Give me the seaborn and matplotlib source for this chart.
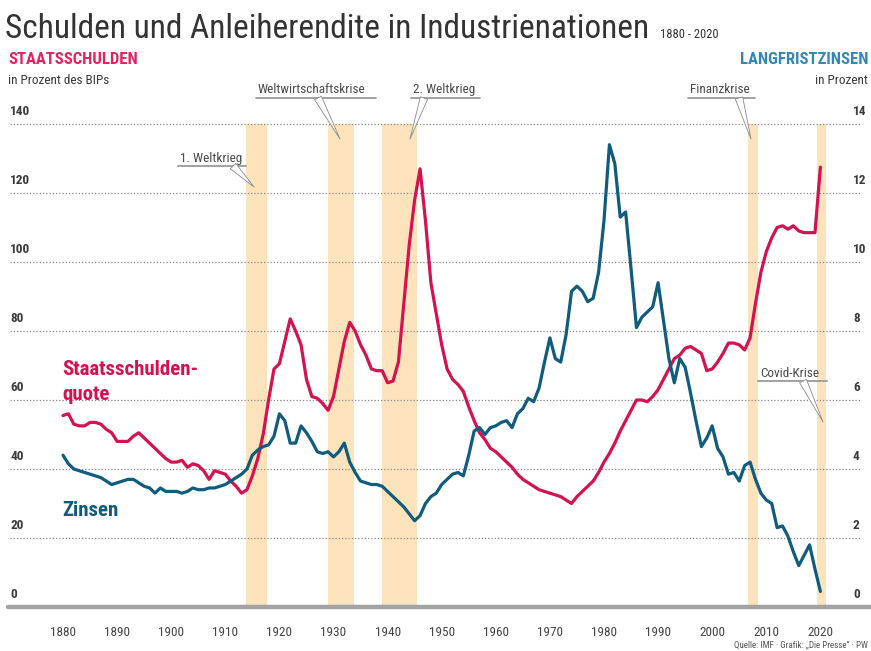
import matplotlib
matplotlib.use("Agg")
import matplotlib.pyplot as plt
from matplotlib import font_manager
import seaborn as sns
import pandas as pd

# ---------------- data ----------------
years = list(range(1880, 2021))
debt = [55.5, 56, 53, 52.5, 52.5, 53.5, 53.5, 53, 51.5, 50.5,
        48, 48, 48, 49.5, 50.5, 49, 47.5, 46, 44.5, 43,
        42, 42, 42.5, 40.5, 41.5, 41, 39.5, 37, 39.5, 39,
        38.5, 36.5, 35, 33, 34, 38, 43, 50, 60, 69,
        70.5, 77, 83.5, 80, 76, 66, 61, 60.5, 59, 57,
        61, 69, 77, 82.5, 80, 76, 73, 69, 68.5, 68.5,
        65, 65.5, 71, 88, 105, 118, 127, 112, 94, 85,
        76, 69, 66, 64.5, 62.5, 58, 54, 50.5, 48.5, 46,
        45, 43.5, 42, 40.5, 38.5, 37, 36, 35, 34, 33.5,
        33, 32.5, 32, 31, 30, 32, 33.5, 35, 36.5, 39,
        42, 44.5, 47.5, 51, 54, 57, 60, 60, 59.5, 61,
        63, 66, 69, 72, 73, 75, 75.5, 74.5, 73.5, 68.5,
        69, 71, 73.5, 76.5, 76.5, 76, 74.5, 78, 88, 97,
        103, 107, 110, 110.5, 109.5, 110.5, 109, 108.5, 108.5, 108.5,
        127.5]
rates = [4.4, 4.15, 4.0, 3.95, 3.9, 3.85, 3.8, 3.75, 3.65, 3.55,
         3.6, 3.65, 3.7, 3.7, 3.6, 3.5, 3.45, 3.3, 3.45, 3.35,
         3.35, 3.35, 3.3, 3.35, 3.45, 3.4, 3.4, 3.45, 3.45, 3.5,
         3.55, 3.65, 3.75, 3.85, 4.0, 4.4, 4.55, 4.65, 4.7, 4.95,
         5.6, 5.4, 4.75, 4.75, 5.25, 5.05, 4.8, 4.5, 4.45, 4.5,
         4.35, 4.5, 4.75, 4.2, 3.9, 3.65, 3.6, 3.55, 3.55, 3.5,
         3.35, 3.2, 3.05, 2.9, 2.7, 2.5, 2.65, 3.0, 3.2, 3.3,
         3.55, 3.7, 3.85, 3.9, 3.8, 4.4, 5.1, 5.2, 5.0, 5.2,
         5.25, 5.35, 5.4, 5.2, 5.6, 5.75, 6.05, 5.95, 6.35, 7.1,
         7.8, 7.2, 7.1, 7.9, 9.15, 9.3, 9.15, 8.85, 8.95, 9.7,
         11.2, 13.4, 12.85, 11.3, 11.45, 9.8, 8.1, 8.4, 8.55, 8.7,
         9.4, 8.3, 7.2, 6.5, 7.2, 6.95, 6.2, 5.4, 4.65, 4.9,
         5.25, 4.6, 4.35, 3.85, 3.9, 3.65, 4.1, 4.2, 3.7, 3.3,
         3.1, 3.0, 2.3, 2.35, 2.05, 1.6, 1.2, 1.5, 1.8, 1.1,
         0.45]

band_names = ["WWI", "Depression", "WWII", "Finance", "Covid"]
band_start = [1913.9, 1928.9, 1938.9, 2006.6, 2019.3]
band_end = [1917.8, 1933.7, 1945.4, 2008.5, 2021.1]

left_ticks = [0, 20, 40, 60, 80, 100, 120, 140]
right_ticks = [0, 2, 4, 6, 8, 10, 12, 14]
x_ticks = list(range(1880, 2030, 10))

# ---------------- style ----------------
sns.set_style("white")


def pick(cands):
    names = {f.name for f in font_manager.fontManager.ttflist}
    out = [c for c in cands if c in names]
    return out + ["DejaVu Sans"]


narrow = pick(["Liberation Sans Narrow", "Roboto Condensed", "Open Sans Condensed",
               "Roboto", "Liberation Sans"])
plt.rcParams["font.family"] = narrow

RED = "#d3124f"
RED_H = "#e0245e"
BLUE = "#105c7c"
BLUE_H = "#2f88b6"
BAND = "#fde3bb"
DARK = "#3a3a3a"

W, H = 871, 651
fig = plt.figure(figsize=(W / 100, H / 100), dpi=100)
fig.patch.set_facecolor("white")

X0 = 1880 + (8 - 63) / 5.41
X1 = 1880 + (871 - 63) / 5.41
YTOP = (607 - 118) / 3.45
ax = fig.add_axes([8 / W, 1 - 607 / H, (871 - 8) / W, (607 - 118) / H])
ax2 = ax.twinx()

df = pd.DataFrame({"year": years, "debt": debt, "rates": rates})

for s, e in zip(band_start, band_end):
    ax.axvspan(s, e, ymin=0, ymax=140 / YTOP, color=BAND, lw=0, zorder=0)

gx0 = 1880 + (10 - 63) / 5.41
gx1 = 1880 + (860 - 63) / 5.41
for v in left_ticks[1:]:
    ax.plot([gx0, gx1], [v, v], color="#8a8a8a", lw=0.9, ls=(0, (1, 1.6)), zorder=1)

sns.lineplot(data=df, x="year", y="debt", ax=ax, color=RED, lw=2.3, zorder=3)
sns.lineplot(data=df, x="year", y="rates", ax=ax2, color=BLUE, lw=2.3, zorder=3)

ax.set_xlim(X0, X1)
ax.set_ylim(0, YTOP)
ax2.set_ylim(0, YTOP / 10)
for a in (ax, ax2):
    a.set_xlabel("")
    a.set_ylabel("")
    a.set_yticks([])
    for sp in a.spines.values():
        sp.set_visible(False)
    a.patch.set_visible(False)
ax.set_zorder(1)
ax2.set_zorder(2)

ax.axhline(0, color="#a3a3a3", lw=3.2, clip_on=False, zorder=4)

ax.set_xticks(x_ticks)
ax.set_xticklabels([str(t) for t in x_ticks], fontsize=9.5, color="#444444")
ax.tick_params(axis="x", length=0, pad=14)
ax2.tick_params(axis="x", length=0)


def px2x(px):
    return 1880 + (px - 63) / 5.41


def py2y(py):
    return (607 - py) / 3.45


# y tick labels drawn inside plot
xl = px2x(10)
xr = px2x(853)
for v, r in zip(left_ticks, right_ticks):
    ax.text(xl, v + 1.6, str(v), fontsize=9.5, fontweight="bold", color=DARK,
            ha="left", va="bottom", zorder=5)
    ax.text(xr, v + 1.6, str(r), fontsize=9.5, fontweight="bold", color=DARK,
            ha="left", va="bottom", zorder=5, clip_on=False)

# series labels
ax.text(px2x(62), py2y(370), "Staatsschulden-", color=RED, fontsize=15,
        fontweight="bold", ha="left", va="center", zorder=5)
ax.text(px2x(62), py2y(395), "quote", color=RED, fontsize=15,
        fontweight="bold", ha="left", va="center", zorder=5)
ax.text(px2x(62), py2y(511), "Zinsen", color=BLUE, fontsize=15,
        fontweight="bold", ha="left", va="center", zorder=5)

# annotations
annos = [
    ("1. Weltkrieg", 180, 162, 178, 246, 166, 233, 254, 187),
    ("Weltwirtschaftskrise", 258, 93, 256, 376, 98, 318, 340, 139),
    ("2. Weltkrieg", 413, 93, 411, 480, 98, 424, 410, 139),
    ("Finanzkrise", 690, 93, 688, 755, 98, 739, 751, 139),
    ("Covid-Krise", 760, 377, 758, 827, 381, 803, 823, 422),
]
for txt, tx, ty, u0, u1, uy, wx, px, py in annos:
    ax.text(px2x(tx), py2y(ty), txt, fontsize=9.5, color="#4a4a4a",
            ha="left", va="baseline", zorder=6, clip_on=False)
    ax.plot([px2x(u0), px2x(u1)], [py2y(uy), py2y(uy)], color="#9a9a9a",
            lw=1.3, clip_on=False, zorder=6)
    ax.annotate("", xy=(px2x(px), py2y(py)), xytext=(px2x(wx), py2y(uy)),
                arrowprops=dict(arrowstyle="wedge,tail_width=0.55,shrink_factor=0.5",
                                fc="white", ec="#8a8a8a", lw=0.6,
                                shrinkA=0, shrinkB=0),
                annotation_clip=False, zorder=6)

# header texts
fig.text(5 / W, 1 - 38 / H, "Schulden und Anleiherendite in Industrienationen",
         fontsize=24, color="#333333", ha="left", va="baseline")
fig.text(660 / W, 1 - 38 / H, "1880 - 2020", fontsize=9, color="#333333",
         ha="left", va="baseline")
fig.text(8 / W, 1 - 60 / H, "STAATSSCHULDEN", fontsize=12, fontweight="bold",
         color=RED_H, ha="left", va="center")
fig.text(8 / W, 1 - 80 / H, "in Prozent des BIPs", fontsize=9.5, color=DARK,
         ha="left", va="center")
fig.text(868 / W, 1 - 60 / H, "LANGFRISTZINSEN", fontsize=12, fontweight="bold",
         color=BLUE_H, ha="right", va="center")
fig.text(868 / W, 1 - 80 / H, "in Prozent", fontsize=9.5, color=DARK,
         ha="right", va="center")
fig.text(868 / W, 1 - 645 / H, "Quelle: IMF \u00b7 Grafik: \u201eDie Presse\u201c \u00b7 PW",
         fontsize=6.5, color="#555555", ha="right", va="center")

fig.savefig("out.png", dpi=100, facecolor="white")
